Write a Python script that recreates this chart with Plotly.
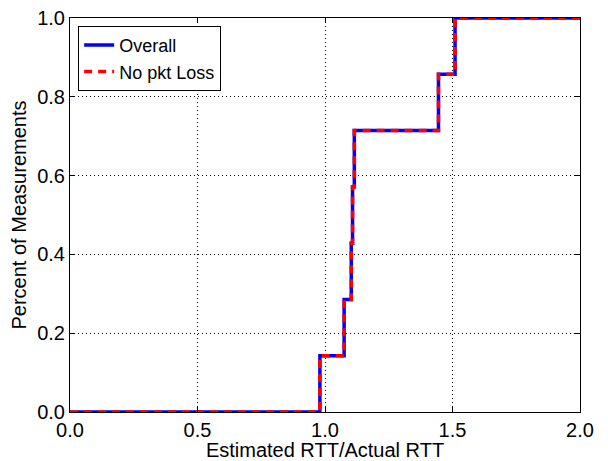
import plotly.graph_objects as go

# Sorted ratio samples (Estimated RTT / Actual RTT), read off the CDF steps
overall_x = [0.0, 0.98, 1.075, 1.103, 1.108, 1.115, 1.445, 1.51, 2.0]
overall_y = [0.0, 1/7, 2/7, 3/7, 4/7, 5/7, 6/7, 1.0, 1.0]
noloss_x = [0.0, 0.98, 1.075, 1.103, 1.108, 1.115, 1.445, 1.51, 2.0]
noloss_y = [0.0, 1/7, 2/7, 3/7, 4/7, 5/7, 6/7, 1.0, 1.0]

x_ticks = [0.0, 0.5, 1.0, 1.5, 2.0]
y_ticks = [0.0, 0.2, 0.4, 0.6, 0.8, 1.0]

FONT = "Liberation Sans, Arial, sans-serif"

fig = go.Figure()
fig.add_trace(go.Scatter(x=overall_x, y=overall_y, mode="lines", name="Overall",
                         line=dict(color="#0000ff", width=3.5, shape="hv")))
fig.add_trace(go.Scatter(x=noloss_x, y=noloss_y, mode="lines", name="No pkt Loss",
                         line=dict(color="#ff0000", width=3.5, shape="hv", dash="8px,6px")))

axis_common = dict(showline=True, linecolor="black", linewidth=1, mirror="ticks",
                   ticks="inside", ticklen=5, tickcolor="black", automargin=False,
                   showgrid=True, gridcolor="black", gridwidth=1, griddash="1px,3px",
                   zeroline=False, tickfont=dict(size=20, color="black", family=FONT),
                   title_font=dict(size=20, color="black", family=FONT))

fig.update_xaxes(range=[0, 2], tickvals=x_ticks, ticktext=[f"{v:.1f}" for v in x_ticks],
                 title_text="Estimated RTT/Actual RTT", title_standoff=4, **axis_common)
fig.update_yaxes(range=[0, 1], tickvals=y_ticks, ticktext=[f"{v:.1f}" for v in y_ticks],
                 title_text="Percent of Measurements", title_standoff=5, **axis_common)

fig.update_layout(
    width=608, height=461,
    margin=dict(l=70, r=28, t=18, b=49),
    paper_bgcolor="white", plot_bgcolor="white",
    font=dict(family=FONT, color="black"),
    legend=dict(x=0.016, y=0.98, xanchor="left", yanchor="top",
                bgcolor="white", bordercolor="black", borderwidth=1,
                tracegroupgap=0, itemwidth=30,
                font=dict(size=18, color="black", family=FONT)),
)

# remove the page's default 8px body margin so the figure sits at the window origin
fig.write_html("out.html", config={"displayModeBar": False},
               post_script="document.body.style.margin='0';document.body.style.overflow='hidden';")
